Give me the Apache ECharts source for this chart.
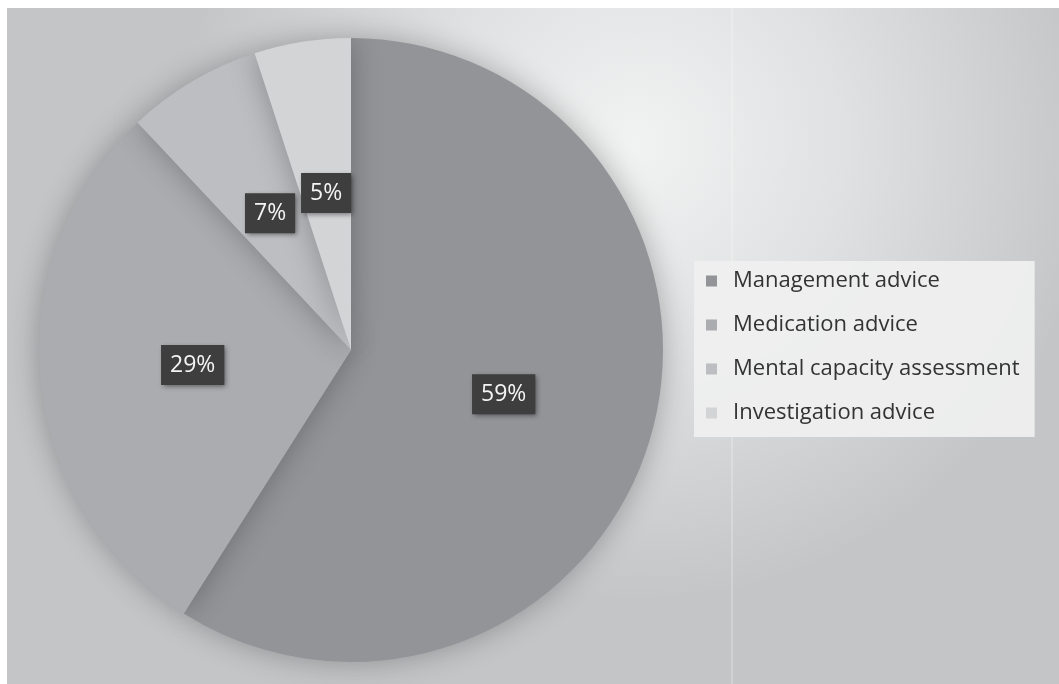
<!DOCTYPE html>
<html>
<head>
<meta charset="utf-8">
<script src="https://cdn.jsdelivr.net/npm/echarts@6/dist/echarts.min.js"></script>
<style>
  html, body { margin: 0; padding: 0; background: #fff; }
  #chart { position: absolute; left: 7px; top: 8px; width: 1052px; height: 676px; }
</style>
</head>
<body>
<div id="chart"></div>
<script>
// data
const categories = ['Management advice', 'Medication advice', 'Mental capacity assessment', 'Investigation advice']
const shares = [59, 29, 7, 5]
const sliceColors = ['#939498', '#abacaf', '#bdbec1', '#d3d4d6']

const chart = echarts.init(document.getElementById('chart'))

// label box
const labelSetting = {
  show: true,
  position: 'inside',
  formatter: '{d}%',
  color: '#f4f4f4',
  fontFamily: 'Open Sans',
  fontSize: 23,
  lineHeight: 24,
  backgroundColor: '#3e3e3e',
  padding: [8, 9],
  shadowColor: 'rgba(0,0,0,0.45)',
  shadowBlur: 5,
  shadowOffsetX: 2,
  shadowOffsetY: 2
}

const option = {
  animation: false,
  backgroundColor: {
    type: 'radial',
    x: 0.6,
    y: 0.2,
    r: 0.68,
    colorStops: [
      { offset: 0, color: '#f1f2f2' },
      { offset: 0.45, color: '#e0e1e2' },
      { offset: 1, color: '#c4c5c7' }
    ]
  },
  color: sliceColors,
  legend: {
    orient: 'vertical',
    left: 687,
    top: 253,
    backgroundColor: 'rgba(238,239,238,0.95)',
    padding: [9, 15, 13, 12],
    itemWidth: 11,
    itemHeight: 11,
    itemGap: 22,
    icon: 'rect',
    data: categories,
    textStyle: {
      color: '#333333',
      fontFamily: 'Open Sans',
      fontSize: 22,
      padding: [0, 0, 0, 11]
    }
  },
  graphic: [
    {
      type: 'line',
      shape: { x1: 725, y1: 0, x2: 725, y2: 676 },
      style: { stroke: 'rgba(255,255,255,0.45)', lineWidth: 1 },
      z: -1
    }
  ],
  series: [
    {
      type: 'pie',
      center: [344, 342],
      radius: 312,
      startAngle: 90,
      clockwise: true,
      label: labelSetting,
      labelLine: { show: false },
      itemStyle: {
        shadowColor: 'rgba(0,0,0,0.28)',
        shadowBlur: 30
      },
      emphasis: { disabled: true },
      data: categories.map((name, i) => ({ name, value: shares[i] }))
    }
  ]
}

chart.setOption(option)
</script>
</body>
</html>
